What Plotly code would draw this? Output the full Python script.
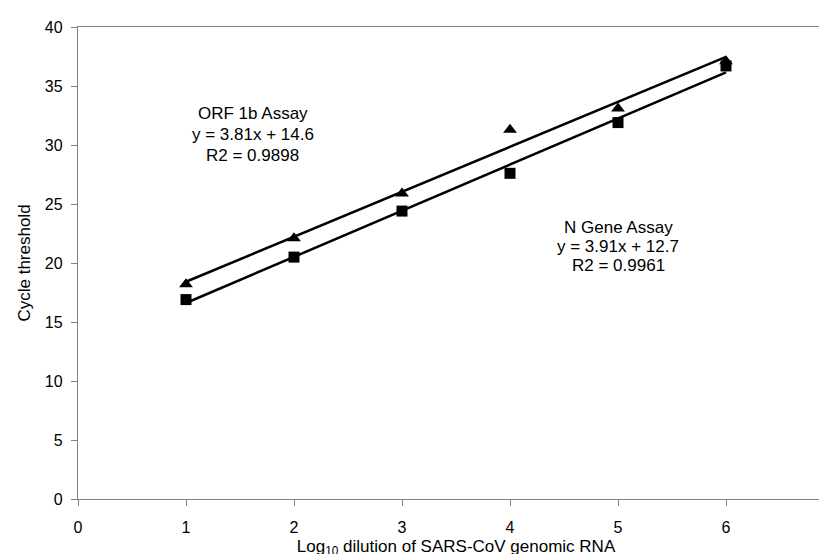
import plotly.graph_objects as go
import numpy as np

dilution = [1, 2, 3, 4, 5, 6]
orf1b_ct = [18.2, 22.1, 25.9, 31.3, 33.1, 37.1]
ngene_ct = [16.9, 20.5, 24.4, 27.6, 31.9, 36.7]

orf1b_fit = [3.81, 14.6]
ngene_fit = [3.91, 12.7]

x_ticks = [0, 1, 2, 3, 4, 5, 6, 7]
y_ticks = [0, 5, 10, 15, 20, 25, 30, 35, 40]

orf1b_label = ["ORF 1b Assay", "y = 3.81x + 14.6", "R2 = 0.9898"]
ngene_label = ["N Gene Assay", "y = 3.91x + 12.7", "R2 = 0.9961"]

font = "Liberation Sans, Arial, sans-serif"
xl = np.array([min(dilution), max(dilution)])

fig = go.Figure()
fig.add_trace(go.Scatter(x=xl, y=orf1b_fit[0] * xl + orf1b_fit[1], mode="lines",
                         line=dict(color="black", width=2.5), showlegend=False))
fig.add_trace(go.Scatter(x=xl, y=ngene_fit[0] * xl + ngene_fit[1], mode="lines",
                         line=dict(color="black", width=2.5), showlegend=False))
fig.add_trace(go.Scatter(x=dilution, y=orf1b_ct, mode="markers",
                         marker=dict(symbol="triangle-up", size=12, color="black"),
                         showlegend=False))
fig.add_trace(go.Scatter(x=dilution, y=ngene_ct, mode="markers",
                         marker=dict(symbol="square", size=11, color="black"),
                         showlegend=False))

orf_y = [32.7, 30.93, 29.15]
n_y = [23.05, 21.44, 19.83]
for txt, yy in zip(orf1b_label, orf_y):
    fig.add_annotation(x=1.62, y=yy, xref="x", yref="y", showarrow=False,
                       text=txt, font=dict(family=font, size=17, color="black"))
for txt, yy in zip(ngene_label, n_y):
    fig.add_annotation(x=5.0, y=yy, xref="x", yref="y", showarrow=False,
                       text=txt, font=dict(family=font, size=17, color="black"))

axis_common = dict(showgrid=False, zeroline=False, showline=True, linecolor="#808080",
                   linewidth=1.3, mirror=True, ticks="outside", tickcolor="#808080",
                   ticklen=6, automargin=False, ticklabeloverflow="allow",
                   tickfont=dict(family=font, size=16, color="black"))

fig.update_xaxes(range=[0, 7], tickvals=x_ticks, ticklabelstandoff=8, **axis_common,
                 title=dict(text="Log<sub>10</sub> dilution of SARS-CoV genomic RNA",
                            font=dict(family=font, size=17, color="black"), standoff=4))
fig.update_yaxes(range=[0, 40], tickvals=y_ticks, ticklabelstandoff=5, **axis_common,
                 title=dict(text="Cycle threshold",
                            font=dict(family=font, size=17, color="black"), standoff=9))

fig.update_layout(width=827, height=554, margin=dict(l=70, r=1, t=19, b=63),
                  plot_bgcolor="white", paper_bgcolor="white")

fig.write_html("out.html")
